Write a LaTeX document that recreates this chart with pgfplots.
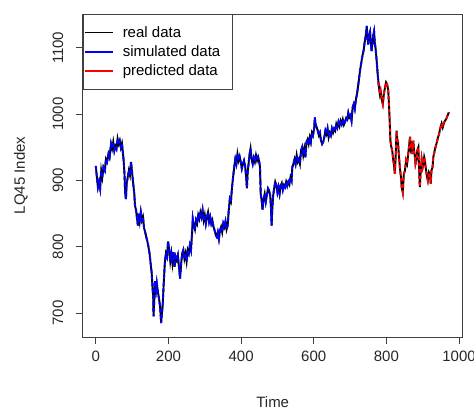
\documentclass[border=0pt]{standalone}
\usepackage{fontspec}
\setmainfont{Liberation Sans}
\usepackage{pgfplots}
\usepackage{pgfplotstable}
\pgfplotsset{compat=1.18}

% LQ45 index
\pgfplotstableread{
t y
0 922
3 905
6 890
9 898
12 888
15 915
18 905
21 920
25 915
28 932
31 928
35 940
38 935
42 955
45 948
48 958
51 945
54 952
57 948
60 963
63 955
66 960
69 950
72 956
75 940
77 928
79 910
81 880
83 872
85 895
88 905
91 915
94 908
97 928
100 912
103 895
106 880
108 862
111 855
113 845
116 832
118 850
121 838
124 852
127 840
130 845
133 828
136 822
139 815
142 808
145 800
148 790
150 780
152 770
154 760
156 740
158 725
159 695
161 720
163 748
166 735
168 745
171 732
174 722
177 710
180 685
182 700
184 710
187 745
190 775
193 790
196 785
199 808
202 795
205 778
208 790
211 775
214 792
217 770
220 785
223 780
226 787
229 770
232 752
235 775
238 790
241 795
244 782
247 790
250 778
253 795
256 790
259 802
262 795
265 820
267 842
270 832
273 826
276 840
279 835
282 848
285 842
288 852
291 845
294 855
297 840
300 848
303 835
306 845
309 852
312 838
315 845
318 835
321 840
324 830
327 825
330 818
333 815
336 822
339 812
342 825
345 830
348 822
351 835
354 830
357 838
360 826
363 832
366 855
369 872
372 868
375 890
378 905
381 920
384 932
387 925
390 940
393 930
396 936
399 928
402 918
405 925
408 930
411 922
414 905
416 888
418 912
420 922
423 938
426 948
429 932
432 925
435 934
438 928
441 938
444 930
447 935
450 928
452 920
454 880
457 868
459 856
462 872
465 880
468 868
471 878
474 888
477 885
480 878
482 862
484 832
486 858
488 876
491 888
494 898
497 893
500 882
503 890
506 880
509 892
512 896
515 886
518 893
521 890
524 898
527 892
530 898
533 894
536 905
539 900
541 920
544 925
547 932
550 925
553 938
556 928
559 932
562 925
565 945
568 950
571 938
574 948
577 935
580 958
583 962
586 955
589 965
592 958
595 972
598 968
601 978
603 995
605 985
608 980
611 975
614 968
617 972
620 960
623 955
626 958
629 965
632 975
635 970
638 978
641 965
644 972
647 968
650 978
653 972
656 978
659 975
662 985
665 980
668 988
671 982
674 990
677 985
680 992
683 984
686 988
689 994
692 992
695 1002
698 995
701 998
704 990
707 1010
710 1015
713 1008
716 1022
719 1030
722 1042
725 1055
728 1068
731 1078
734 1088
737 1095
740 1108
743 1118
746 1133
748 1115
750 1105
752 1118
755 1124
757 1110
759 1095
762 1108
764 1120
766 1125
768 1108
770 1100
772 1088
774 1075
776 1060
778 1048
780 1038
782 1030
784 1035
787 1022
790 1015
793 1030
796 1040
799 1048
802 1045
805 1036
807 1015
809 990
811 960
813 952
816 945
818 935
821 922
823 910
825 930
828 975
830 962
832 958
834 940
837 920
840 905
842 890
845 882
848 910
851 915
854 930
857 925
860 940
863 955
865 966
867 948
869 952
871 940
874 960
876 945
878 938
880 925
883 932
885 945
888 950
890 915
892 890
894 910
897 932
900 920
902 925
904 935
906 930
908 920
910 912
912 905
914 900
917 912
920 908
922 895
924 915
927 920
929 935
931 940
934 948
936 952
939 958
942 965
945 970
947 976
950 982
952 986
955 980
958 986
961 990
964 992
967 996
970 1000
972 1003
}\lqdata

\definecolor{AxisInk}{HTML}{404040}
\definecolor{SimBlue}{RGB}{0,0,255}
\definecolor{PredRed}{RGB}{255,0,0}

\begin{document}
\begin{tikzpicture}[x=1pt,y=1pt]
\path[use as bounding box] (0,0) rectangle (474,409);
\begin{axis}[
  at={(82.7pt,72pt)}, anchor=south west,
  scale only axis, width=380pt, height=323pt,
  xmin=-36, xmax=1010, ymin=664, ymax=1151,
  xtick={0,200,400,600,800,1000},
  ytick={700,800,900,1000,1100},
  axis line style={draw=AxisInk,line width=0.9pt},
  tick style={draw=AxisInk,line width=0.9pt},
  tick align=outside, tick pos=left, major tick length=7pt,
  /pgf/number format/assume math mode=true,
  /pgf/number format/set thousands separator={},
  tick label style={font=\fontsize{15}{17}\selectfont,text=black!85},
  yticklabel style={rotate=90,anchor=south},
  yticklabel shift=9pt,
  xticklabel style={yshift=-3pt},
  xlabel={Time}, ylabel={LQ45 Index},
  label style={font=\fontsize{15}{17}\selectfont,text=black!85},
  xlabel style={yshift=-29pt},
  ylabel style={yshift=18pt},
  legend style={draw=AxisInk,line width=0.9pt,fill=white,
    font=\fontsize{15}{17}\selectfont,
    inner xsep=1pt,inner ysep=10pt,row sep=2.8pt,
    /tikz/every odd column/.append style={column sep=7pt},
    at={(0,1)},anchor=north west},
  legend cell align=left,
  legend image code/.code={\draw[#1] (0pt,0pt) -- (28pt,0pt);},
]
\addplot[black,line width=1.9pt,forget plot] table[x=t,y=y] {\lqdata};
\addplot[SimBlue,line width=1.9pt,dash pattern=on 4pt off 2.5pt,forget plot,
  restrict x to domain=0:780] table[x=t,y=y] {\lqdata};
\addplot[PredRed,line width=1.9pt,dash pattern=on 3.5pt off 3pt,forget plot,
  restrict x to domain=778:975] table[x=t,y=y] {\lqdata};
\addlegendimage{draw=black,line width=1.2pt}
\addlegendentry{real data\kern9pt\relax}
\addlegendimage{draw=SimBlue,line width=1.6pt}
\addlegendentry{simulated data\kern9pt\relax}
\addlegendimage{draw=PredRed,line width=1.2pt}
\addlegendentry{predicted data\kern9pt\relax}
\end{axis}
\end{tikzpicture}
\end{document}
